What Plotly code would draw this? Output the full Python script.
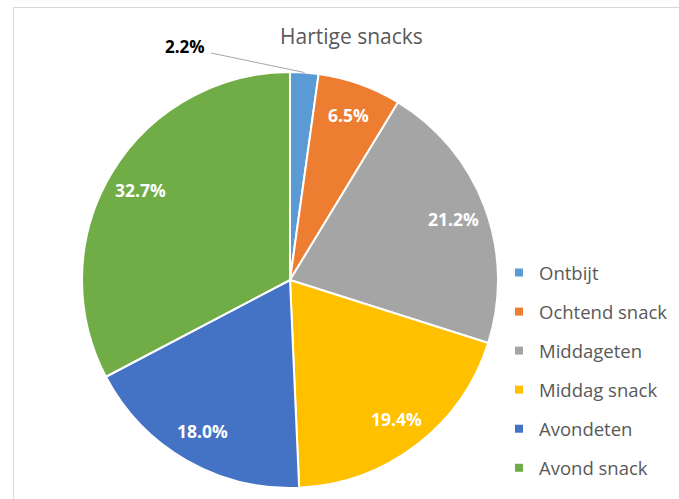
import math
import plotly.graph_objects as go

# ---- data ----
categories = ["Ontbijt", "Ochtend snack", "Middageten", "Middag snack", "Avondeten", "Avond snack"]
shares = [2.2, 6.5, 21.2, 19.4, 18.0, 32.7]
colors = ["#5B9BD5", "#ED7D31", "#A5A5A5", "#FFC000", "#4472C4", "#70AD47"]
title_text = "Hartige snacks"

# ---- layout geometry (pixels) ----
W, H = 679, 499
CX, CY = 290, 280          # pie centre, from top
R = 208                    # pie radius
LABEL_FRAC = 0.84          # label radius as fraction of R
FONT = "Open Sans"

cy_b = H - CY
fig = go.Figure()
fig.add_trace(go.Pie(
    labels=categories, values=shares, sort=False, direction="clockwise", rotation=0,
    marker=dict(colors=colors, line=dict(color="white", width=2)),
    textinfo="none", showlegend=False, hoverinfo="label+percent",
    domain=dict(x=[(CX - R) / W, (CX + R) / W], y=[(cy_b - R) / H, (cy_b + R) / H]),
))

# legend entries
for i, (c, col) in enumerate(zip(categories, colors)):
    fig.add_trace(go.Scatter(
        x=[None], y=[None], mode="markers", name=c, legendgroup=c,
        marker=dict(symbol="square", size=8, color=col), hoverinfo="skip",
    ))

annotations = []
total = sum(shares)
cum = 0.0
for i, v in enumerate(shares):
    mid = (cum + v / 2) / total * 2 * math.pi
    cum += v
    label = f"{v / total * 100:.1f}%"
    if i == 0:
        ex = CX + R * math.sin(mid)
        ey = cy_b + R * math.cos(mid)
        tx, ty = 185, H - 47
        annotations.append(dict(
            x=tx / W, y=ty / H, xref="paper", yref="paper", text=f"<b>{label}</b>",
            showarrow=False, xanchor="center", yanchor="middle",
            font=dict(family=FONT, size=17, color="#000000"),
        ))
        fig.add_shape(type="line", xref="paper", yref="paper",
                      x0=(tx + 26) / W, y0=(ty - 6) / H, x1=ex / W, y1=ey / H,
                      line=dict(color="#A6A6A6", width=1))
    else:
        lx = CX + LABEL_FRAC * R * math.sin(mid)
        ly = cy_b + LABEL_FRAC * R * math.cos(mid)
        annotations.append(dict(
            x=lx / W, y=ly / H, xref="paper", yref="paper", text=f"<b>{label}</b>",
            showarrow=False, xanchor="center", yanchor="middle",
            font=dict(family=FONT, size=17.5, color="#FFFFFF"),
        ))

annotations.append(dict(
    x=351 / W, y=1 - 36 / H, xref="paper", yref="paper", text=title_text,
    showarrow=False, font=dict(family=FONT, size=21, color="#595959"),
    xanchor="center", yanchor="middle",
))

# chart frame
fig.add_shape(type="rect", xref="paper", yref="paper",
              x0=13.5 / W, x1=1.02, y0=-0.05, y1=1 - 7.5 / H,
              line=dict(color="#D9D9D9", width=1), layer="below")

fig.update_layout(
    width=W, height=H, margin=dict(l=0, r=0, t=0, b=0),
    paper_bgcolor="white", plot_bgcolor="white",
    xaxis=dict(visible=False), yaxis=dict(visible=False),
    annotations=annotations,
    legend=dict(x=499 / W, y=1 - 254 / H, xanchor="left", yanchor="top",
                font=dict(family=FONT, size=18.5, color="#595959"),
                tracegroupgap=12, traceorder="grouped", bgcolor="rgba(0,0,0,0)"),
    showlegend=True,
)

fig.write_html("out.html")
